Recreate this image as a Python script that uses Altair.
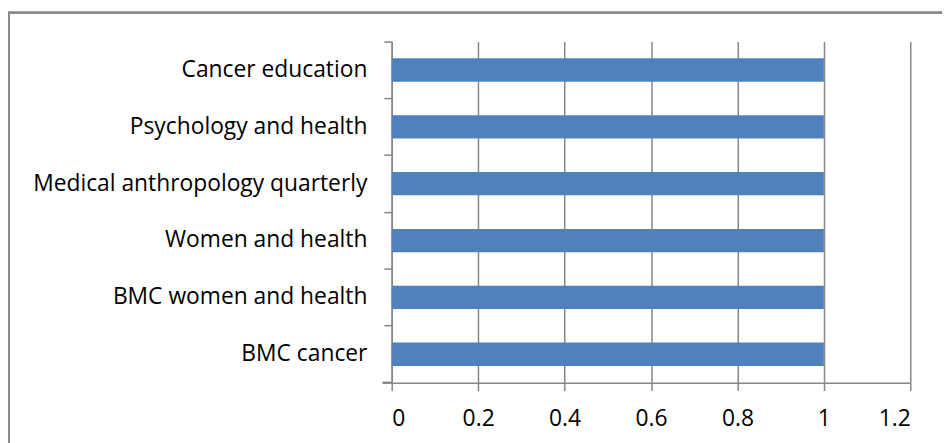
import altair as alt
import pandas as pd

journals = [
    "Cancer education",
    "Psychology and health",
    "Medical anthropology quarterly",
    "Women and health",
    "BMC women and health",
    "BMC cancer",
]
counts = [1, 1, 1, 1, 1, 1]
x_ticks = [0, 0.2, 0.4, 0.6, 0.8, 1.0, 1.2]

df = pd.DataFrame({"journal": journals, "count": counts})

W, H = 523, 344
FONT = "Open Sans"
GRAY = "#868686"

y_enc = alt.Y(
    "journal:N",
    sort=journals,
    scale=alt.Scale(paddingInner=0, paddingOuter=0),
    axis=alt.Axis(
        title=None,
        bandPosition=0,
        tickSize=8,
        tickColor=GRAY,
        tickWidth=1.5,
        domainColor=GRAY,
        domainWidth=1.5,
        labelPadding=17,
        labelFont=FONT,
        labelFontSize=23,
        labelColor="#000000",
        grid=False,
        labelLimit=500,
    ),
)

bars = alt.Chart(df).mark_bar(color="#4F81BD", height=alt.RelativeBandSize(0.41)).encode(
    x=alt.X(
        "count:Q",
        scale=alt.Scale(domain=[0, 1.2], nice=False),
        axis=alt.Axis(
            title=None,
            values=x_ticks,
            format="~g",
            tickSize=8,
            tickColor=GRAY,
            tickWidth=1.5,
            domainColor=GRAY,
            domainWidth=1.5,
            gridColor=GRAY,
            gridWidth=1.5,
            labelPadding=17,
            labelFont=FONT,
            labelFontSize=23,
            labelColor="#000000",
        ),
    ),
    y=y_enc,
)

bottom_tick = alt.Chart(df).mark_rule(color=GRAY, strokeWidth=1.5).encode(
    x=alt.value(-9), x2=alt.value(0), y=alt.value(H)
)

border = alt.Chart(df).mark_rect(fill=None, stroke="#8c8c8c", strokeWidth=2).encode(
    x=alt.value(-386), x2=alt.value(W + 200), y=alt.value(-29), y2=alt.value(H + 200)
)

chart = (
    alt.layer(border, bars, bottom_tick)
    .properties(
        width=W,
        height=H,
        autosize=alt.AutoSizeParams(type="none"),
        padding={"left": 387, "top": 32, "right": 32, "bottom": 59},
    )
    .configure_view(stroke=None)
)

chart.save("out.html", embed_options={"renderer": "svg", "actions": False})
